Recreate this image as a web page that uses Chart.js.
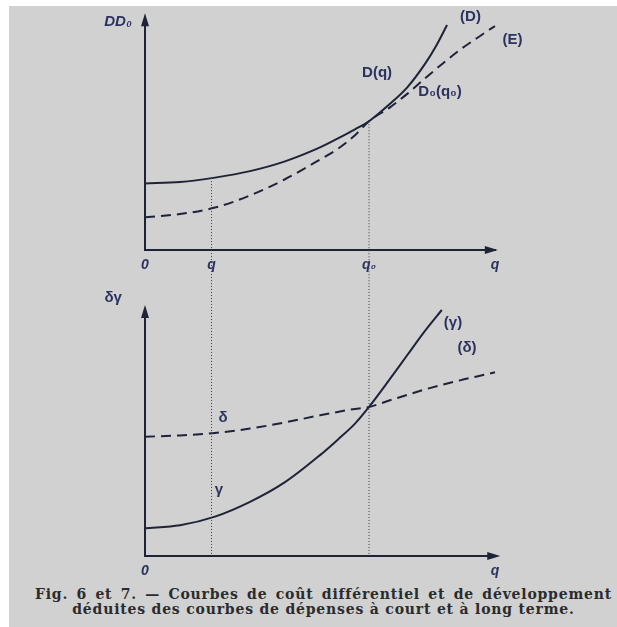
<!DOCTYPE html>
<html>
<head>
<meta charset="utf-8">
<script src="https://cdn.jsdelivr.net/npm/chart.js@4"></script>
<style>
  body { margin: 0; background: #fff; }
  #paper { position: absolute; left: 9px; top: 6px; width: 608px; height: 621px; background: #d0d1d0; }
  canvas { position: absolute; left: 0; }
  #top { top: 0; }
  #bottom { top: 285px; }
  #cap { position: absolute; left: 35px; top: 587px; width: 577px; font: bold 14px "DejaVu Serif", serif; letter-spacing: 0.8px; color: #2b2b2e; line-height: 15px; }
  #cap .l1 { text-align: justify; text-align-last: justify; }
  #cap .l2 { text-align: center; }
</style>
</head>
<body>
<div id="paper"></div>
<canvas id="top" width="617" height="285"></canvas>
<canvas id="bottom" width="617" height="295"></canvas>
<div id="cap">
  <div class="l1">Fig. 6 et 7. — Courbes de coût différentiel et de développement</div>
  <div class="l2">déduites des courbes de dépenses à court et à long terme.</div>
</div>
<script>
// marks on the q axis (same for both figures)
const qShort = 1.9;
const qLong = 6.4;

// Fig. 6 : dépenses D (court terme) et E (long terme)
const qD = [0, 1, 2, 3, 4, 5, 5.5, 6, 6.4, 7, 7.5, 8, 8.3, 8.63];
const valD = [2.87, 2.93, 3.12, 3.4, 3.82, 4.42, 4.8, 5.2, 5.55, 6.3, 7.02, 8.02, 8.75, 9.7];
const qE = [0, 1, 2, 3, 4, 5, 5.5, 6, 6.4, 7, 7.5, 8, 8.5, 9, 9.5, 10, 10.15];
const valE = [1.41, 1.55, 1.83, 2.35, 3.05, 3.9, 4.35, 4.95, 5.55, 6.15, 6.74, 7.4, 8.03, 8.63, 9.15, 9.65, 9.78];
const topTicks = [0, qShort, qLong, 10];
const topTickLabels = ["0", "q", "q₀", "q"];

// Fig. 7 : coût différentiel γ et coût de développement δ
const qG = [0, 1, 2, 3, 4, 5, 5.5, 6, 6.4, 7, 7.5, 8, 8.48];
const valG = [1.13, 1.25, 1.6, 2.2, 3.0, 4.1, 4.72, 5.38, 6.06, 7.2, 8.18, 9.15, 10.0];
const qDelta = [0, 1, 2, 3, 4, 5, 6, 6.4, 7, 8, 9, 10, 10.15];
const valDelta = [4.85, 4.9, 5.0, 5.18, 5.43, 5.72, 5.98, 6.06, 6.33, 6.77, 7.14, 7.47, 7.53];
const bottomTicks = [0, 10];
const bottomTickLabels = ["0", "q"];

const ink = "#1f2338";
const labelInk = "#2c3260";

const pts = (xs, ys) => xs.map((x, i) => ({ x: x, y: ys[i] }));

// axis arrows + curve names
const figurePlugin = {
  id: "figure",
  afterDraw(chart, args, opts) {
    const { ctx, chartArea: a, scales: { x, y } } = chart;
    const x0 = x.getPixelForValue(0);
    const y0 = y.getPixelForValue(0);
    const yTip = y.getPixelForValue(opts.yArrow);
    const xTip = x.getPixelForValue(opts.xArrow);
    ctx.save();
    ctx.strokeStyle = ink;
    ctx.fillStyle = ink;
    ctx.lineWidth = 2;
    ctx.beginPath();
    ctx.moveTo(x0, a.top);
    ctx.lineTo(x0, yTip + 6);
    ctx.moveTo(a.right, y0);
    ctx.lineTo(xTip - 6, y0);
    ctx.stroke();
    ctx.beginPath();
    ctx.moveTo(x0, yTip);
    ctx.lineTo(x0 - 4, yTip + 13);
    ctx.lineTo(x0 + 4, yTip + 13);
    ctx.closePath();
    ctx.fill();
    ctx.beginPath();
    ctx.moveTo(xTip, y0);
    ctx.lineTo(xTip - 13, y0 - 4);
    ctx.lineTo(xTip - 13, y0 + 4);
    ctx.closePath();
    ctx.fill();

    ctx.fillStyle = labelInk;
    ctx.textAlign = "center";
    ctx.textBaseline = "middle";
    opts.labels.forEach(l => {
      ctx.font = (l.italic ? "italic " : "") + "bold " + (l.size || 15) + "px 'Liberation Sans', sans-serif";
      ctx.fillText(l.text, x.getPixelForValue(l.x), y.getPixelForValue(l.y));
    });
    ctx.restore();
  }
};

function makeChart(id, datasets, cfg) {
  return new Chart(document.getElementById(id), {
    type: "scatter",
    data: { datasets: datasets },
    options: {
      responsive: false,
      animation: false,
      layout: { padding: cfg.padding },
      scales: {
        x: {
          type: "linear",
          min: 0,
          max: 10,
          afterFit: s => { s.height = cfg.xHeight; },
          afterBuildTicks: s => { s.ticks = cfg.ticks.map(v => ({ value: v })); },
          grid: { display: false, drawTicks: false },
          border: { display: true, color: ink, width: 2 },
          ticks: {
            autoSkip: false,
            maxRotation: 0,
            padding: 7,
            color: labelInk,
            font: { family: "Liberation Sans", size: 14, weight: "bold", style: "italic" },
            callback: (v, i) => cfg.tickLabels[i]
          }
        },
        y: {
          type: "linear",
          min: 0,
          max: 10,
          afterFit: s => { s.width = 0; },
          grid: { display: false, drawTicks: false },
          border: { display: true, color: ink, width: 2 },
          ticks: { display: false }
        }
      },
      plugins: {
        legend: { display: false },
        tooltip: { enabled: false },
        figure: cfg.figure
      }
    },
    plugins: [figurePlugin]
  });
}

const solid = { borderColor: ink, borderWidth: 2, pointRadius: 0, showLine: true, cubicInterpolationMode: "monotone", clip: false };
const dashed = Object.assign({}, solid, { borderDash: [10, 6] });
const dotted = { borderColor: "#3a3d4a", borderWidth: 1, borderDash: [1, 2], pointRadius: 0, showLine: true, clip: false };

makeChart("top", [
  Object.assign({ data: [{ x: qShort, y: 3.1 }, { x: qShort, y: -1.6 }] }, dotted),
  Object.assign({ data: [{ x: qLong, y: 5.55 }, { x: qLong, y: -1.6 }] }, dotted),
  Object.assign({ label: "D", data: pts(qD, valD) }, solid),
  Object.assign({ label: "E", data: pts(qE, valE) }, dashed)
], {
  padding: { left: 145, right: 122, top: 18, bottom: 5 },
  xHeight: 30,
  ticks: topTicks,
  tickLabels: topTickLabels,
  figure: {
    yArrow: 10.2,
    xArrow: 10.08,
    labels: [
      { text: "DD₀", x: -0.77, y: 9.83, italic: true },
      { text: "(D)", x: 9.3, y: 10.04 },
      { text: "(E)", x: 10.5, y: 9.05 },
      { text: "D(q)", x: 6.63, y: 7.63 },
      { text: "D₀(q₀)", x: 8.43, y: 6.81 }
    ]
  }
});

makeChart("bottom", [
  Object.assign({ data: [{ x: qShort, y: 11.1 }, { x: qShort, y: 0 }] }, dotted),
  Object.assign({ data: [{ x: qLong, y: 11.1 }, { x: qLong, y: 0 }] }, dotted),
  Object.assign({ label: "γ", data: pts(qG, valG) }, solid),
  Object.assign({ label: "δ", data: pts(qDelta, valDelta) }, dashed)
], {
  padding: { left: 145, right: 122, top: 25, bottom: 2 },
  xHeight: 22,
  ticks: bottomTicks,
  tickLabels: bottomTickLabels,
  figure: {
    yArrow: 10.2,
    xArrow: 10.15,
    labels: [
      { text: "δγ", x: -0.91, y: 10.49 },
      { text: "(γ)", x: 8.8, y: 9.47 },
      { text: "(δ)", x: 9.2, y: 8.46 },
      { text: "δ", x: 2.23, y: 5.61 },
      { text: "γ", x: 2.11, y: 2.68 }
    ]
  }
});
</script>
</body>
</html>
